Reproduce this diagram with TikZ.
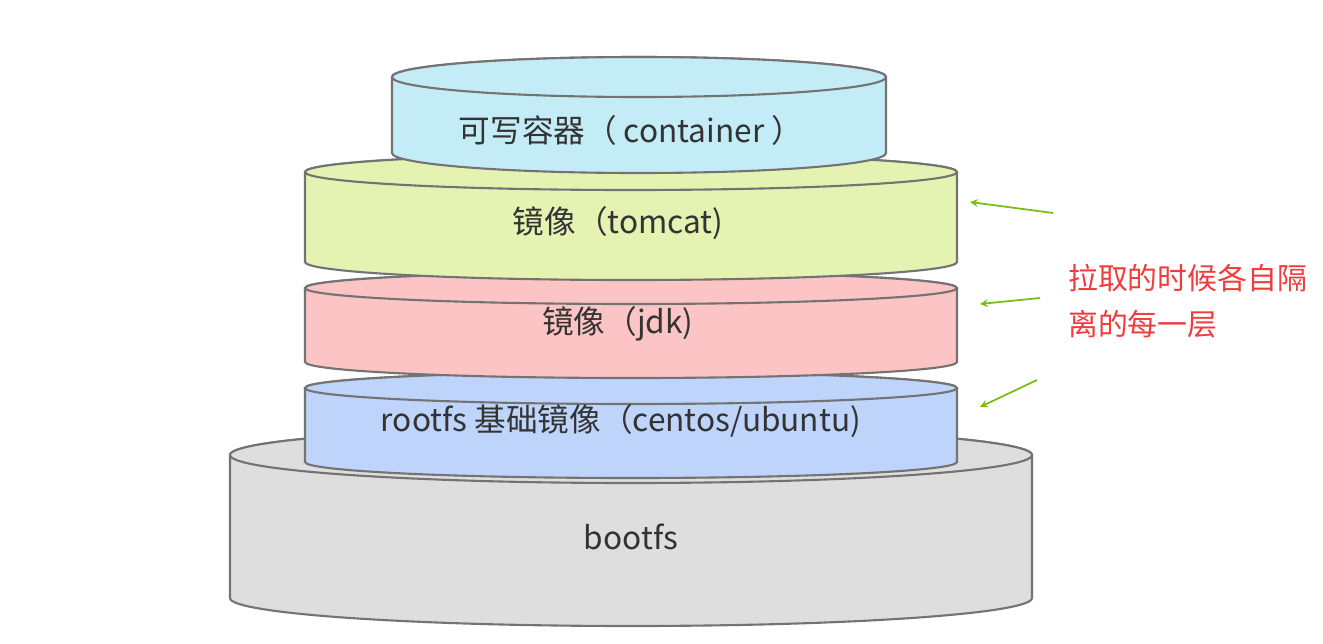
\documentclass[tikz,border=0pt]{standalone}
\usepackage{fontspec}
\setmainfont{Noto Sans CJK SC}
\usetikzlibrary{positioning}
\definecolor{bootgray}{RGB}{222,222,222}
\definecolor{rootblue}{RGB}{190,212,250}
\definecolor{jdkred}{RGB}{252,196,196}
\definecolor{tomgreen}{RGB}{228,242,178}
\definecolor{contcyan}{RGB}{196,236,246}
\definecolor{arrowgreen}{RGB}{120,190,20}
\definecolor{notered}{RGB}{240,60,60}
\tikzset{
  layer/.style={draw=black!55,line width=1.2pt},
  lbl/.style={font=\fontsize{18}{21}\selectfont,text=black!80},
  pull/.style={->,draw=arrowgreen,line width=1pt,>=stealth}
}
% \layer{fill}{cx}{top}{bottom}{rx}{ry}
\newcommand{\layer}[6]{%
  \filldraw[layer,fill=#1] (#2-#5,#3) -- (#2-#5,#4)
    arc[start angle=180,end angle=0,x radius=#5,y radius=#6]
    -- (#2+#5,#3) arc[start angle=0,end angle=-180,x radius=#5,y radius=#6] -- cycle;
  \filldraw[layer,fill=#1] (#2,#3) ellipse[x radius=#5,y radius=#6];}
\begin{document}
\begin{tikzpicture}[x=0.02cm,y=-0.02cm]
\useasboundingbox (0,0) rectangle (1323,643);
\layer{bootgray}{631}{455}{598}{401}{28}
\layer{rootblue}{631}{388}{462}{326}{16}
\layer{jdkred}{631}{288}{362}{326}{16}
\layer{tomgreen}{631}{172}{262}{326}{18}
\layer{contcyan}{639}{77}{153}{247}{20}
\node[lbl] (boot) at (631,537) {bootfs};
\node[lbl] (root) at (621,421) {rootfs 基础镜像（centos/ubuntu)};
\node[lbl] (jdk) at (618,324) {镜像（jdk)};
\node[lbl] (tom) at (618,223) {镜像（tomcat)};
\node[lbl] (cont) at (631,130) {可写容器（ container ）};
\node[text=notered,font=\fontsize{17}{26}\selectfont,align=left,anchor=north west]
  (note) at (1062,258) {拉取的时候各自隔\\离的每一层};
\coordinate (a1) at (1053,213); \coordinate (b1) at (970,202);
\coordinate (a2) at (1040,298); \coordinate (b2) at (980,304);
\coordinate (a3) at (1037,380); \coordinate (b3) at (980,407);
\draw[pull] (a1) -- (b1);
\draw[pull] (a2) -- (b2);
\draw[pull] (a3) -- (b3);
\end{tikzpicture}
\end{document}
